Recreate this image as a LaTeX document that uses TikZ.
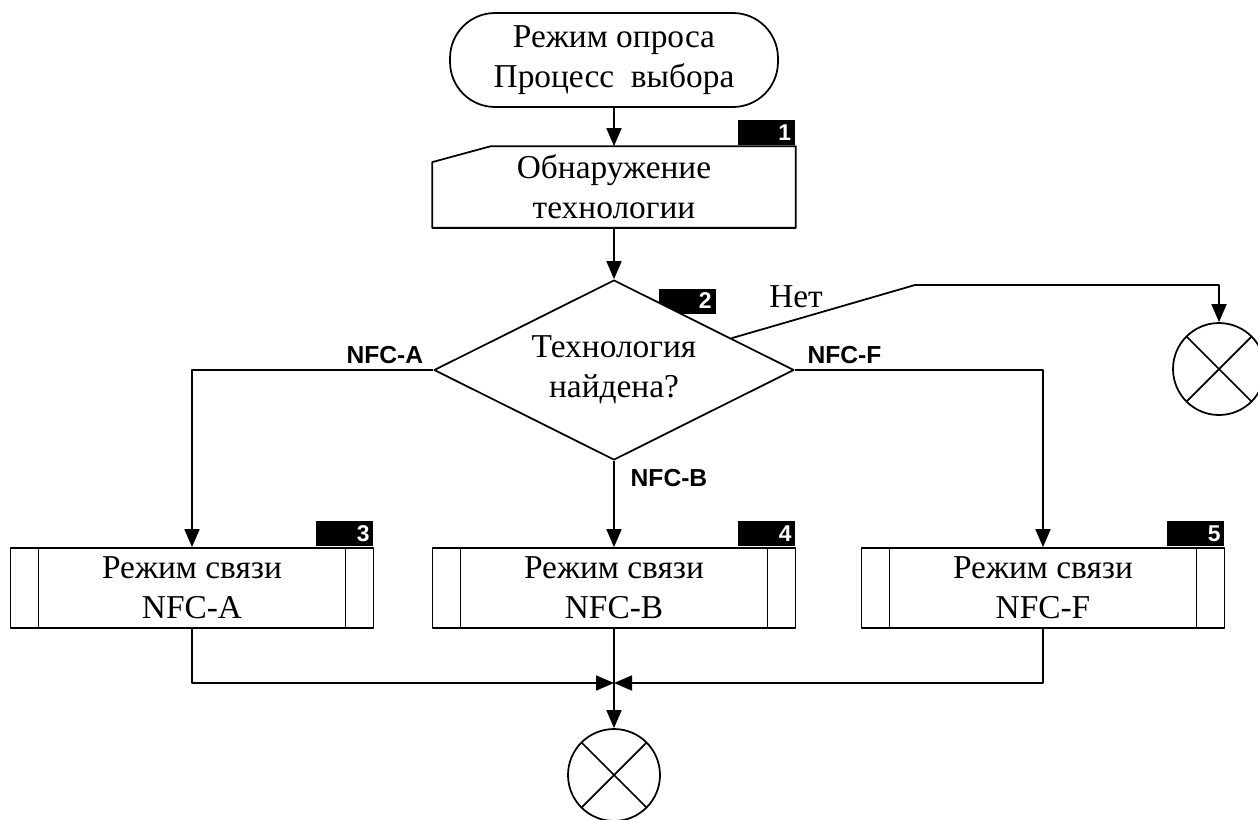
\documentclass[tikz,border=0pt]{standalone}
\usepackage{fontspec}
\setmainfont{Liberation Serif}
\setsansfont{Liberation Sans}
\usetikzlibrary{arrows.meta,shapes.geometric,calc}
\begin{document}
\begin{tikzpicture}[x=0.02cm,y=-0.02cm,line join=round,line width=1pt,>={Triangle[width=0.3cm,length=0.36cm]}]
	\tikzset{txt/.style={font=\fontsize{19}{23}\selectfont, align=center},
		term/.style={txt, draw, rectangle, rounded corners=0.9cm, minimum width=6.56cm, minimum height=1.88cm},
		inbox/.style={txt, rectangle, minimum width=7.24cm, minimum height=1.6cm},
		decision/.style={txt, draw, fill=white, diamond, shape aspect=2, minimum width=7.2cm, minimum height=3.6cm, inner sep=0pt},
		subbox/.style={txt, draw, rectangle, minimum width=7.26cm, minimum height=1.6cm,
			path picture={\draw ([xshift=0.56cm]path picture bounding box.south west)--([xshift=0.56cm]path picture bounding box.north west) ([xshift=-0.56cm]path picture bounding box.south east)--([xshift=-0.56cm]path picture bounding box.north east);}},
		tag/.style={fill=black, text=white, font=\sffamily\bfseries\fontsize{13}{13}\selectfont, text width=0.98cm, align=right, inner sep=0.08cm, minimum height=0.5cm},
		endpt/.style={draw, circle, minimum size=1.84cm, inner sep=0pt,
			path picture={\draw (path picture bounding box.south west)--(path picture bounding box.north east) (path picture bounding box.north west)--(path picture bounding box.south east);}},
		lbl/.style={font=\sffamily\bfseries\fontsize{14}{14}\selectfont}}
	\useasboundingbox (0,0) rectangle (1258,819);
	% top of the chart
	\node[term] (start) at (614,60) {Режим опроса\\Процесс~ выбора};
	\node[inbox] (detect) at (614,187) {Обнаружение\\технологии};
	\draw (detect.south west)--([yshift=-0.32cm]detect.north west)--([xshift=1.18cm]detect.north west)--(detect.north east)--(detect.south east)--cycle;
	\node[tag, anchor=south east] (t1) at (detect.north east) {1};
	\node[tag] (t2) at (687,301) {2};
	\node[decision] (check) at (614,370) {Технология\\найдена?};
	% the three modes
	\node[subbox] (modea) at (192,588) {Режим связи\\NFC-A};
	\node[subbox] (modeb) at (614,588) {Режим связи\\NFC-B};
	\node[subbox] (modef) at (1043,588) {Режим связи\\NFC-F};
	\node[tag, anchor=south east] (t3) at (modea.north east) {3};
	\node[tag, anchor=south east] (t4) at (modeb.north east) {4};
	\node[tag, anchor=south east] (t5) at (modef.north east) {5};
	\node[endpt] (stopn) at (1219,369) {};
	\node[endpt] (stop) at (614,775) {};
	\coordinate (netbend) at (915,285); \coordinate (merge) at (614,683);
	\draw[->] (start)--(detect); \draw[->] (detect)--(check);
	\draw[->] (check.west)-|(modea.north) node[pos=0.1, above, lbl]{NFC-A};
	\draw[->] (check.east)-|(modef.north) node[pos=0.1, above, lbl]{NFC-F};
	\draw[->] (check.south)--(modeb.north) node[pos=0.2, right=0.2cm, lbl]{NFC-B};
	\draw[->] ($(check.north)!0.65!(check.east)$)--(netbend)-|(stopn.north);
	\node[txt, fill=white, inner sep=1pt] (no) at (796,297) {Нет};
	\draw[->] (modea.south)|-(merge); \draw[->] (modef.south)|-(merge);
	\draw (modeb.south)--(merge); \draw[->] (merge)--(stop.north);
\end{tikzpicture}
\end{document}
